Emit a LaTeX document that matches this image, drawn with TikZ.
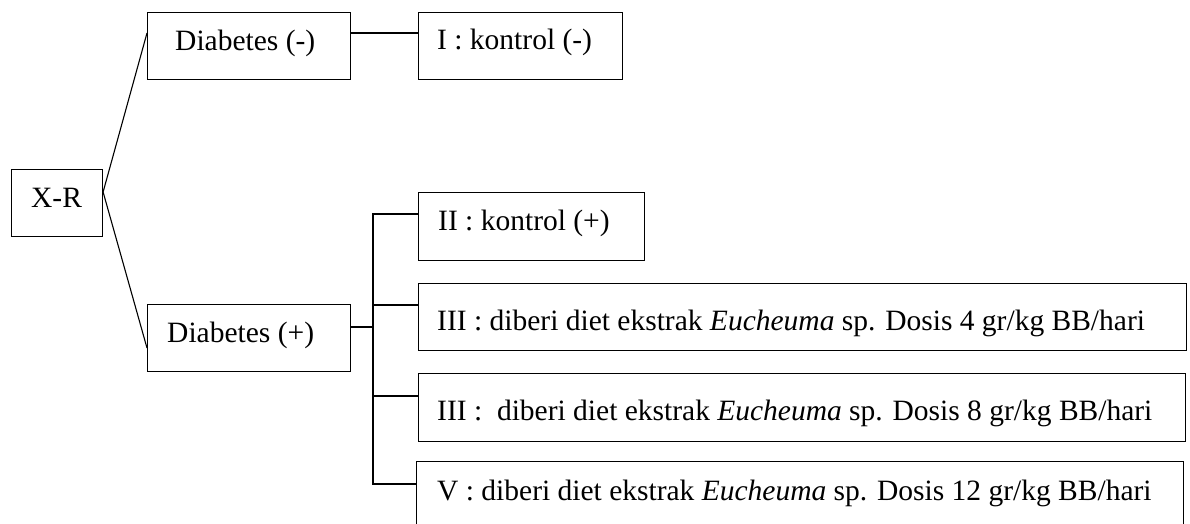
\documentclass[tikz,border=0pt]{standalone}
\usepackage{fontspec}
\setmainfont{Liberation Serif}
\begin{document}
\begin{tikzpicture}[x=1pt,y=-1pt,
  box/.style={draw,line width=1.1pt,rectangle,inner sep=0pt,anchor=north west},
  lbl/.style={anchor=base west,inner sep=0pt,font=\fontsize{29.5}{35}\selectfont},
  conn/.style={line width=1.1pt}]
\useasboundingbox (0,0) rectangle (1190,524);
\clip (0,0) rectangle (1190,524);
\node[box,minimum width=91pt,minimum height=67pt] (xr) at (11,169) {};
\node[box,minimum width=203pt,minimum height=67pt] (dm) at (147,12) {};
\node[box,minimum width=203pt,minimum height=67pt] (dp) at (147,304) {};
\node[box,minimum width=204pt,minimum height=67pt] (k1) at (418,12) {};
\node[box,minimum width=226pt,minimum height=68pt] (k2) at (418,192) {};
\node[box,minimum width=768pt,minimum height=67pt] (k3) at (418,283) {};
\node[box,minimum width=767pt,minimum height=68pt] (k4) at (418,373) {};
\node[box,minimum width=767pt,minimum height=90pt] (k5) at (416,461) {};
\node[lbl] (txr) at (31,207) {X-R};
\node[lbl] (tdm) at (175,51) {Diabetes (-)};
\node[lbl] (tdp) at (167,342) {Diabetes (+)};
\node[lbl] (tk1) at (437,50) {I : kontrol (-)};
\node[lbl] (tk2) at (438,230) {II : kontrol (+)};
\node[lbl] (tk3) at (437,330) {III : diberi diet ekstrak \textit{Eucheuma} sp. Dosis 4 gr/kg BB/hari};
\node[lbl] (tk4) at (437,420) {III : \ diberi diet ekstrak \textit{Eucheuma} sp. Dosis 8 gr/kg BB/hari};
\node[lbl] (tk5) at (437,500) {V : diberi diet ekstrak \textit{Eucheuma} sp. Dosis 12 gr/kg BB/hari};
\coordinate (bt) at (373,214);
\coordinate (bb) at (373,484);
\draw[conn] ([yshift=-23pt]xr.north east) -- ([yshift=-21pt]dm.north west);
\draw[conn] ([yshift=-23pt]xr.north east) -- ([yshift=-44pt]dp.north west);
\draw[conn] ([yshift=-21pt]dm.north east) -- ([yshift=-21pt]k1.north west);
\draw[conn] ([yshift=-23pt]dp.north east) -- ([yshift=-23pt]dp.north east -| bt);
\draw[conn] ([yshift=-22pt]k2.north west) -- (bt) -- (bb) -- ([yshift=-23pt]k5.north west);
\draw[conn] ([yshift=-22pt]k3.north west) -- ([yshift=-22pt]k3.north west -| bt);
\draw[conn] ([yshift=-23pt]k4.north west) -- ([yshift=-23pt]k4.north west -| bt);
\end{tikzpicture}
\end{document}
